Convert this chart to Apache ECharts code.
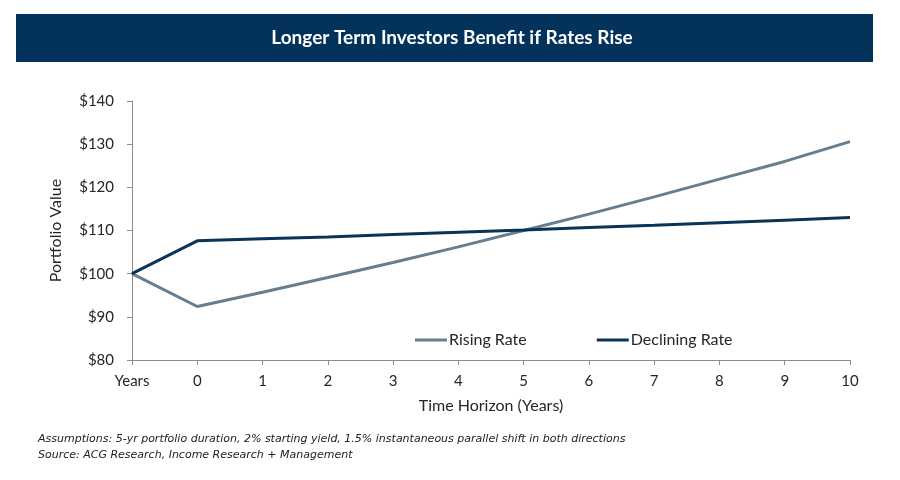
<!DOCTYPE html>
<html lang="en">
<head>
    <meta charset="UTF-8">
    <title>Longer Term Investors Benefit if Rates Rise</title>
    <script src="https://cdn.jsdelivr.net/npm/echarts@6/dist/echarts.min.js"></script>
    <style>
        body { margin: 0; background: #fff; }
        #chart { width: 900px; height: 480px; }
    </style>
</head>
<body>
<div id="chart"></div>
<script>
    // categories on the x axis
    var years = ['Years', '0', '1', '2', '3', '4', '5', '6', '7', '8', '9', '10'];
    // portfolio values
    var risingRate = [100, 92.4, 95.7, 99.1, 102.6, 106.2, 110.0, 113.8, 117.8, 121.9, 126.0, 130.6];
    var decliningRate = [100, 107.6, 108.1, 108.5, 109.1, 109.6, 110.1, 110.7, 111.2, 111.8, 112.4, 113.0];
    var titleText = 'Longer Term Investors Benefit if Rates Rise';
    var noteLines = [
        'Assumptions: 5-yr portfolio duration, 2% starting yield, 1.5% instantaneous parallel shift in both directions',
        'Source: ACG Research, Income Research + Management'
    ];

    var font = 'Lato, "Noto Sans", sans-serif';
    var ct = echarts.init(document.getElementById('chart'));
    var option = {
        animation: false,
        backgroundColor: '#fff',
        graphic: [
            {
                type: 'rect',
                shape: { x: 16, y: 14, width: 857, height: 48 },
                style: { fill: '#03325a' }
            },
            {
                type: 'text',
                x: 452, y: 38,
                style: {
                    text: titleText,
                    fill: '#fff',
                    font: 'bold 19px Lato, sans-serif',
                    align: 'center',
                    verticalAlign: 'middle'
                }
            },
            {
                type: 'text',
                x: 38, y: 431,
                style: {
                    text: noteLines.join('\n'),
                    fill: '#222',
                    font: 'italic 11px "DejaVu Sans", sans-serif',
                    lineHeight: 16
                }
            }
        ],
        legend: {
            data: ['Rising Rate', 'Declining Rate'],
            left: 410,
            top: 327,
            icon: 'rect',
            itemWidth: 32,
            itemHeight: 3,
            itemGap: 70,
            textStyle: { fontFamily: font, fontSize: 16, color: '#262626', padding: [0, 0, 0, -3] }
        },
        grid: { left: 132, right: 50, top: 101, bottom: 120 },
        xAxis: {
            type: 'category',
            data: years,
            boundaryGap: false,
            name: 'Time Horizon (Years)',
            nameLocation: 'middle',
            nameGap: 38,
            nameTextStyle: { fontFamily: font, fontSize: 16, color: '#262626' },
            axisLine: { lineStyle: { color: '#8c8c8c', width: 1 } },
            axisTick: { show: true, length: 5, alignWithLabel: true, lineStyle: { color: '#8c8c8c' } },
            axisLabel: { fontFamily: font, fontSize: 15, color: '#262626', margin: 14 }
        },
        yAxis: {
            type: 'value',
            min: 80,
            max: 140,
            interval: 10,
            name: 'Portfolio Value',
            nameLocation: 'middle',
            nameGap: 68,
            nameTextStyle: { fontFamily: font, fontSize: 16, color: '#262626' },
            axisLine: { show: true, lineStyle: { color: '#8c8c8c', width: 1 } },
            axisTick: { show: true, length: 5, lineStyle: { color: '#8c8c8c' } },
            splitLine: { show: false },
            axisLabel: {
                fontFamily: font, fontSize: 15, color: '#262626', margin: 18,
                formatter: function (v) { return '$' + v; }
            }
        },
        series: [
            {
                name: 'Rising Rate',
                type: 'line',
                data: risingRate,
                symbol: 'none',
                lineStyle: { color: '#647f90', width: 3 },
                itemStyle: { color: '#647f90' }
            },
            {
                name: 'Declining Rate',
                type: 'line',
                data: decliningRate,
                symbol: 'none',
                lineStyle: { color: '#0a3358', width: 3 },
                itemStyle: { color: '#0a3358' }
            }
        ]
    };
    ct.setOption(option);
</script>
</body>
</html>
